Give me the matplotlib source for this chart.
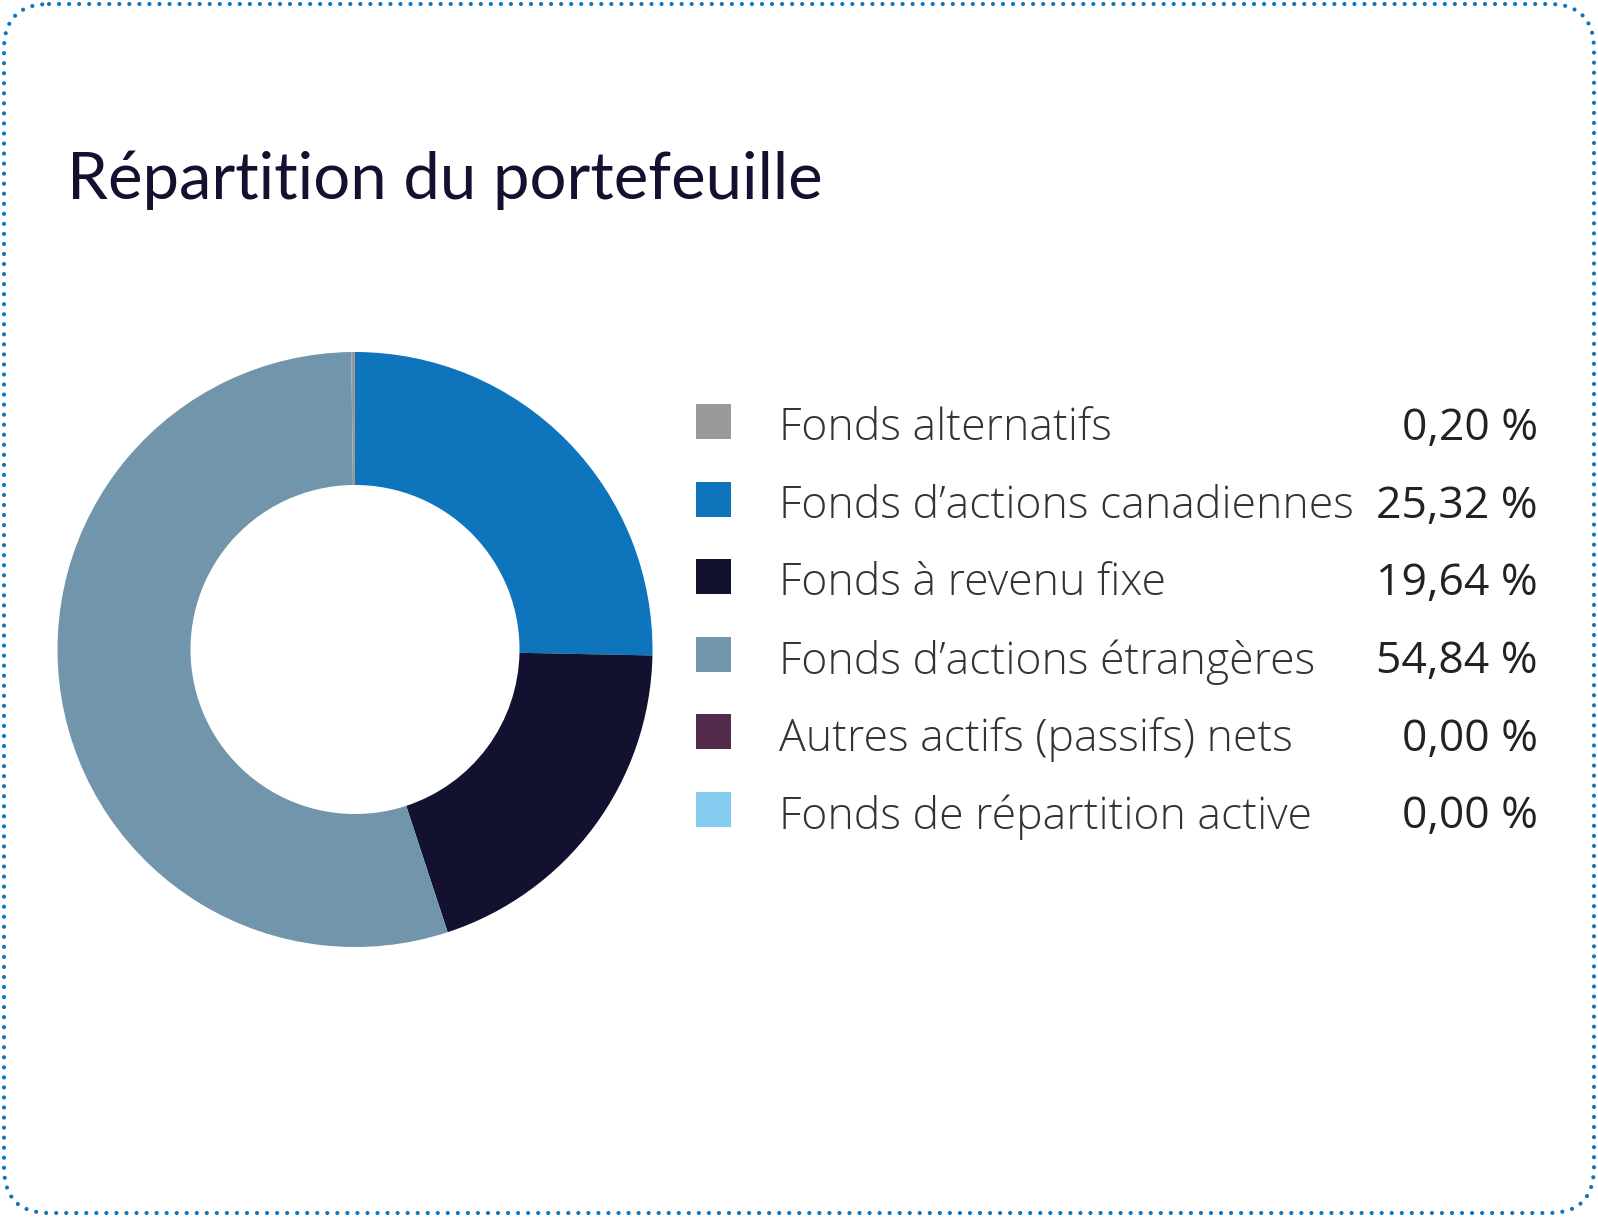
import matplotlib
matplotlib.use("Agg")
import matplotlib.pyplot as plt
from matplotlib.patches import FancyBboxPatch, Rectangle

title = "Répartition du portefeuille"
labels = ["Fonds alternatifs", "Fonds d\u2019actions canadiennes", "Fonds à revenu fixe",
          "Fonds d\u2019actions étrangères", "Autres actifs (passifs) nets",
          "Fonds de répartition active"]
values = [0.20, 25.32, 19.64, 54.84, 0.00, 0.00]
value_labels = ["0,20 %", "25,32 %", "19,64 %", "54,84 %", "0,00 %", "0,00 %"]
colors = ["#999999", "#0e75bd", "#12112f", "#7195ab", "#522a4b", "#86cbf0"]
# order of the slices around the ring (clockwise from 12 o'clock)
ring_order = [1, 2, 3, 0, 4, 5]

W, H = 1598, 1217
fig = plt.figure(figsize=(W / 100, H / 100), dpi=100)

# pixel-space overlay axes
bg = fig.add_axes([0, 0, 1, 1])
bg.set_xlim(0, W)
bg.set_ylim(H, 0)
bg.axis("off")

border = FancyBboxPatch((4, 4), W - 8, H - 8, boxstyle="round,pad=0,rounding_size=45",
                        fill=False, edgecolor="#0e75bd", linewidth=3,
                        linestyle=(0, (0.01, 2.4)))
border.set_capstyle("round")
bg.add_patch(border)

bg.text(67, 199, title, fontsize=47, family="Lato", color="#12112f",
        ha="left", va="baseline")

# donut
cx, cy, r = 355, 649.5, 297.5
pax = fig.add_axes([(cx - r) / W, (H - cy - r) / H, 2 * r / W, 2 * r / H])
pax.pie([values[i] for i in ring_order], colors=[colors[i] for i in ring_order],
        startangle=90, counterclock=False, radius=1,
        wedgeprops=dict(width=0.447, linewidth=0))
pax.set_xlim(-1, 1)
pax.set_ylim(-1, 1)
pax.axis("off")

# legend
row0, step = 424, 77.6
for i, (lab, val, col) in enumerate(zip(labels, value_labels, colors)):
    y = row0 + i * step
    bg.add_patch(Rectangle((696, y - 20), 35, 35, color=col, linewidth=0))
    bg.text(779, y + 5, lab, fontsize=32, family="Open Sans", fontweight="light",
            color="#333333", ha="left", va="center")
    bg.text(1538, y + 5, val, fontsize=32, family="Open Sans", color="#222222",
            ha="right", va="center")

fig.savefig("out.png", dpi=100)
